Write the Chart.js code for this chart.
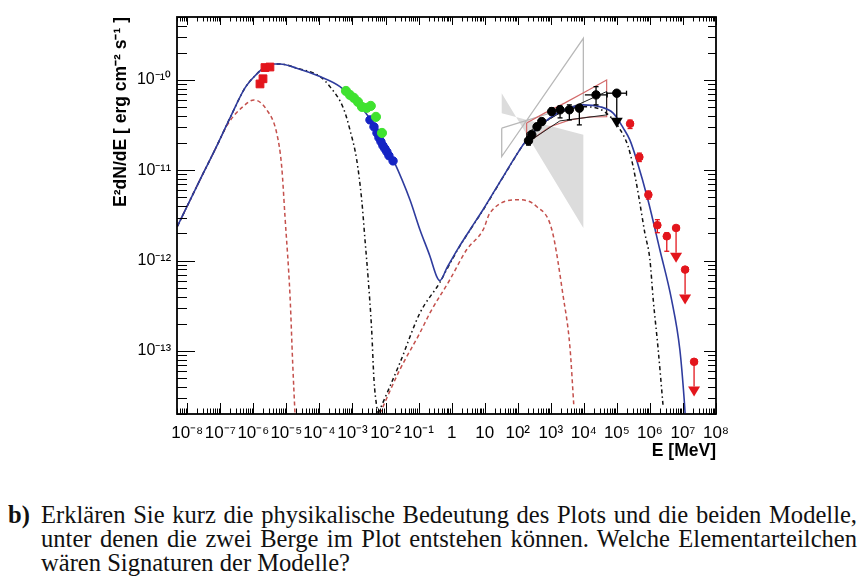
<!DOCTYPE html>
<html>
<head>
<meta charset="utf-8">
<script src="https://cdn.jsdelivr.net/npm/chart.js@4.4.1/dist/chart.umd.min.js"></script>
<style>
  body { margin: 0; background: #fff; width: 864px; height: 588px; overflow: hidden; position: relative; }
  #wrap { position: absolute; left: 0; top: 0; width: 864px; height: 480px; }
  .txt { position: absolute; font-family: "Liberation Serif", "DejaVu Serif", serif; font-size: 23px;
         line-height: 24px; white-space: nowrap; color: #111; }
  .just { width: 816px; text-align: justify; text-align-last: justify; }
</style>
</head>
<body>
<div id="wrap"><canvas id="sed" width="864" height="480"></canvas></div>
<div class="txt" data-base="523" style="left:8px; font-weight:bold">b)</div>
<div class="txt just" id="line1" data-base="523" style="left:41px">Erklären Sie kurz die physikalische Bedeutung des Plots und die beiden Modelle,</div>
<div class="txt just" data-base="547" style="left:41px">unter denen die zwei Berge im Plot entstehen können. Welche Elementarteilchen</div>
<div class="txt" data-base="571" style="left:41px">wären Signaturen der Modelle?</div>

<script>
// Achsen
const xTickValues = [1e-8, 1e-7, 1e-6, 1e-5, 1e-4, 1e-3, 1e-2, 1e-1, 1, 10, 1e2, 1e3, 1e4, 1e5, 1e6, 1e7, 1e8];
const xTickLabels = ['10⁻⁸', '10⁻⁷', '10⁻⁶', '10⁻⁵', '10⁻⁴', '10⁻³', '10⁻²', '10⁻¹', '1', '10',
                     '10²', '10³', '10⁴', '10⁵', '10⁶', '10⁷', '10⁸'];
const yTickValues = [1e-13, 1e-12, 1e-11, 1e-10];
const yTickLabels = ['10⁻¹³', '10⁻¹²', '10⁻¹¹', '10⁻¹⁰'];

// Modell gesamt (blau)
const totalE = [5.0e-9, 2.43e-8, 6.92e-8, 1.97e-7, 5.60e-7, 1.26e-6, 2.26e-6, 4.01e-6, 6.41e-6, 2.05e-5,
                1.04e-4, 4.19e-4, 2.12e-3, 8.53e-3, 1.71e-2, 5.48e-2, 0.110, 0.221, 0.352, 0.44,
                0.726, 1.56, 3.6, 8.9, 36.0, 186, 940, 2673, 9370, 30600,
                77300, 1.55e5, 2.47e5, 3.95e5, 8.7e5, 2.0e6, 4.52e6, 8.05e6, 1.09e7, 1.16e7];
const totalF = [2.39e-12, 7.85e-12, 1.69e-11, 3.80e-11, 8.16e-11, 1.16e-10, 1.39e-10, 1.50e-10, 1.50e-10, 1.35e-10,
                1.09e-10, 8.43e-11, 4.67e-11, 2.17e-11, 1.31e-11, 4.72e-12, 2.20e-12, 1.12e-12, 6.71e-13, 6.01e-13,
                8.37e-13, 1.36e-12, 2.20e-12, 3.66e-12, 8.47e-12, 2.17e-11, 3.80e-11, 4.67e-11, 5.30e-11, 5.06e-11,
                4.29e-11, 2.95e-11, 2.17e-11, 1.31e-11, 4.72e-12, 1.32e-12, 3.71e-13, 1.04e-13, 2.91e-14, 2.04e-14];

// Modell 1 (schwarz strich-punkt)
const lepSynE = [5.0e-9, 2.43e-8, 6.92e-8, 1.97e-7, 5.60e-7, 1.26e-6, 2.26e-6, 4.01e-6, 6.41e-6, 2.05e-5,
                 1.04e-4, 2.08e-4, 5.26e-4, 8.39e-4, 1.34e-3, 1.90e-3, 2.39e-3, 3.0e-3, 3.80e-3, 4.47e-3,
                 5.41e-3, 6.04e-3];
const lepSynF = [2.39e-12, 7.85e-12, 1.69e-11, 3.80e-11, 8.16e-11, 1.16e-10, 1.39e-10, 1.50e-10, 1.50e-10, 1.35e-10,
                 1.09e-10, 8.43e-11, 4.91e-11, 2.80e-11, 1.31e-11, 4.72e-12, 1.71e-12, 6.17e-13, 1.73e-13, 4.84e-14,
                 2.45e-14, 2.04e-14];
const lepIcE = [6.04e-3, 2.73e-2, 0.110, 0.44, 0.726, 1.56, 3.6, 8.9, 36.0, 186,
                940, 2673, 9370, 30600, 6.0e4, 1.1e5, 2.2e5, 3.11e5, 4.41e5, 7.03e5,
                1.0e6, 1.26e6, 1.78e6, 2.51e6];
const lepIcF = [2.04e-14, 7.41e-14, 2.64e-13, 5.73e-13, 8.1e-13, 1.34e-12, 2.18e-12, 3.62e-12, 8.4e-12, 2.15e-11,
                3.75e-11, 4.55e-11, 5.05e-11, 4.75e-11, 4.0e-11, 3.05e-11, 1.83e-11, 1.10e-11, 5.6e-12, 2.02e-12,
                1.03e-12, 3.71e-13, 1.04e-13, 2.45e-14];

// Modell 2 (rot gestrichelt)
const hadSynE = [5.0e-9, 2.43e-8, 6.92e-8, 1.71e-7, 4.88e-7, 1.05e-6, 2.54e-6, 5.09e-6, 7.21e-6, 9.07e-6,
                 1.29e-5, 1.55e-5, 1.82e-5];
const hadSynF = [2.39e-12, 7.85e-12, 1.69e-11, 3.27e-11, 5.07e-11, 6.01e-11, 4.67e-11, 2.58e-11, 1.10e-11, 3.09e-12,
                 4.03e-13, 7.41e-14, 2.04e-14];
const hadIcE = [6.78e-3, 2.73e-2, 0.110, 0.221, 0.889, 2.84, 9.04, 14.4, 116, 372, 1080, 2377, 3784, 5000];
const hadIcF = [2.04e-14, 6.25e-14, 1.59e-13, 2.64e-13, 6.17e-13, 1.32e-12, 2.20e-12, 3.37e-12, 4.72e-12, 3.98e-12,
                2.20e-12, 4.03e-13, 1.13e-13, 2.45e-14];

// Messpunkte
const radioE = [1.59e-6, 1.96e-6, 2.25e-6, 3.18e-6];
const radioF = [9.03e-11, 1.03e-10, 1.37e-10, 1.39e-10];
const optE = [6.35e-4, 8.39e-4, 1.11e-3, 1.47e-3, 1.94e-3, 2.71e-3, 3.58e-3, 5.13e-3, 7.80e-3];
const optF = [7.55e-11, 6.82e-11, 6.32e-11, 5.71e-11, 5.03e-11, 4.91e-11, 5.16e-11, 3.90e-11, 2.59e-11];
const xrayE = [3.38e-3, 4.47e-3, 5.51e-3, 6.32e-3, 7.28e-3, 8.36e-3, 9.62e-3, 1.10e-2, 1.27e-2, 1.69e-2];
const xrayF = [3.61e-11, 3.03e-11, 2.59e-11, 2.29e-11, 2.07e-11, 1.87e-11, 1.73e-11, 1.60e-11, 1.45e-11, 1.27e-11];

const latE = [212, 266, 384, 533, 1071, 1910, 3650, 7330, 23450];
const latF = [2.12e-11, 2.47e-11, 3.03e-11, 3.46e-11, 4.47e-11, 4.67e-11, 4.67e-11, 4.87e-11, 6.83e-11];
const latElo = [180, 225, 320, 450, 900, 1600, 3000, 6000, 10770];
const latEhi = [245, 310, 450, 620, 1250, 2250, 4300, 8900, 50930];
const latFlo = [1.9e-11, 2.25e-11, 2.8e-11, 3.2e-11, 4.1e-11, 3.8e-11, 3.61e-11, 3.18e-11, 5.30e-11];
const latFhi = [2.35e-11, 2.7e-11, 3.3e-11, 3.75e-11, 4.9e-11, 5.16e-11, 5.30e-11, 5.07e-11, 8.43e-11];
const latUlE = [9.93e4], latUlF = [7.13e-11], latUlTip = [2.95e-11], latUlElo = [48800], latUlEhi = [1.96e5];

const iactE = [2.51e5, 4.80e5, 8.98e5, 1.68e6, 3.24e6];
const iactF = [3.27e-11, 1.40e-11, 5.36e-12, 2.47e-12, 1.86e-12];
const iactElo = [2.05e5, 3.9e5, 7.3e5, 1.37e6, 2.63e6];
const iactEhi = [3.1e5, 5.9e5, 1.1e6, 2.07e6, 3.98e6];
const iactFlo = [2.9e-11, 1.25e-11, 4.8e-12, 2.04e-12, 1.27e-12];
const iactFhi = [3.6e-11, 1.55e-11, 5.9e-12, 2.84e-12, 2.04e-12];
const iactUlE = [6.19e6, 1.16e7, 2.17e7];
const iactUlF = [2.30e-12, 7.96e-13, 7.6e-14];
const iactUlTip = [9.5e-13, 3.27e-13, 3.14e-14];
const iactUlElo = [5.0e6, 9.4e6, 1.78e7];
const iactUlEhi = [7.6e6, 1.43e7, 2.67e7];

// Schmetterlinge (Spektralfits)
const latBowE = [186, 667, 2690, 10800, 49100, 49100, 15300, 3800, 944, 382, 186, 186];
const latBowF = [3.33e-11, 4.32e-11, 5.57e-11, 7.36e-11, 1.0e-10, 3.93e-11, 3.90e-11, 3.61e-11, 3.03e-11, 2.40e-11, 2.0e-11, 3.33e-11];
const latBow2E = [186, 1888, 48800, 48800, 1888, 186, 186];
const latBow2F = [2.59e-11, 4.31e-11, 7.43e-11, 4.10e-11, 3.52e-11, 2.01e-11, 2.59e-11];
const egretBowE = [32.8, 9680, 9680, 32.8, 32.8];
const egretBowF = [2.92e-11, 5.57e-11, 2.89e-10, 1.42e-11, 2.92e-11];
const oldBowE = [32.8, 9680, 9680, 32.8, 32.8];
const oldBowF = [7.13e-11, 2.30e-12, 2.47e-11, 4.28e-11, 7.13e-11];

const xy = (xs, ys) => xs.map((v, i) => ({x: v, y: ys[i]}));

// Fehlerbalken, obere Grenzen und Flächen
const markPlugin = {
  id: 'marks',
  beforeDatasetDraw(chart, args) {
    const ds = chart.data.datasets[args.index];
    const {ctx, chartArea: a, scales: {x, y}} = chart;
    ctx.save();
    ctx.beginPath(); ctx.rect(a.left, a.top, a.width, a.height); ctx.clip();
    if (ds.polyFill) {
      const pts = args.meta.data;
      ctx.beginPath();
      pts.forEach((p, i) => i ? ctx.lineTo(p.x, p.y) : ctx.moveTo(p.x, p.y));
      ctx.closePath();
      ctx.fillStyle = ds.polyFill;
      ctx.fill();
    }
    if (ds.errElo || ds.ulTip) {
      ctx.setLineDash([]);
      ctx.strokeStyle = ds.barColor; ctx.fillStyle = ds.barColor; ctx.lineWidth = 1.3;
      const seg = (x1, y1, x2, y2) => { ctx.beginPath(); ctx.moveTo(x1, y1); ctx.lineTo(x2, y2); ctx.stroke(); };
      ds.data.forEach((p, i) => {
        const px = x.getPixelForValue(p.x), py = y.getPixelForValue(p.y);
        if (ds.errElo) {
          const l = x.getPixelForValue(ds.errElo[i]), r = x.getPixelForValue(ds.errEhi[i]);
          seg(l, py, r, py); seg(r, py - 2.5, r, py + 2.5);
        }
        if (ds.errFlo) {
          const b = y.getPixelForValue(ds.errFlo[i]), t = y.getPixelForValue(ds.errFhi[i]);
          seg(px, t, px, b); seg(px - 2.5, t, px + 2.5, t); seg(px - 2.5, b, px + 2.5, b);
        }
        if (ds.ulTip) {
          const ty = y.getPixelForValue(ds.ulTip[i]), w = ds.ulSize;
          seg(px, py, px, ty - w);
          ctx.beginPath(); ctx.moveTo(px - w * 0.6, ty - w); ctx.lineTo(px + w * 0.6, ty - w); ctx.lineTo(px, ty);
          ctx.closePath(); ctx.fill();
        }
      });
    }
    ctx.restore();
  }
};

// ROOT-Rahmen mit Ticks auf allen vier Seiten
const framePlugin = {
  id: 'frame',
  afterDraw(chart) {
    const {ctx, chartArea: a, scales} = chart;
    const sx = scales.x, sy = scales.y;
    ctx.save();
    ctx.setLineDash([]);
    ctx.globalAlpha = 1;
    ctx.strokeStyle = '#000';
    ctx.lineWidth = 1;
    const seg = (x1, y1, x2, y2) => { ctx.beginPath(); ctx.moveTo(x1, y1); ctx.lineTo(x2, y2); ctx.stroke(); };
    for (let d = -16; d <= 9; d++) {
      for (let m = 1; m <= 9; m++) {
        const v = m * Math.pow(10, d);
        const px = sx.getPixelForValue(v);
        if (px >= a.left - 0.5 && px <= a.right + 0.5) {
          const qx = Math.round(px) + 0.5;
          seg(qx, a.bottom, qx, a.bottom - (m === 1 ? 11 : 5.5));
          seg(qx, a.top, qx, a.top + (m === 1 ? 8 : 4.5));
        }
        const py = sy.getPixelForValue(v);
        if (py >= a.top - 0.5 && py <= a.bottom + 0.5) {
          const qy = Math.round(py) + 0.5;
          seg(a.left, qy, a.left + (m === 1 ? 18 : 10), qy);
          seg(a.right, qy, a.right - (m === 1 ? 12 : 8), qy);
        }
      }
    }
    ctx.lineWidth = 1.8;
    ctx.strokeRect(a.left, a.top, a.width, a.height);
    ctx.restore();
  }
};

Chart.defaults.font.family = "'Liberation Sans', Arial, sans-serif";
Chart.defaults.color = '#000';

const curve = (data, color, dash, width) => ({
  data, showLine: true, pointRadius: 0, borderColor: color, borderWidth: width,
  borderDash: dash, cubicInterpolationMode: 'monotone', fill: false
});
const outline = (data, color, width) => ({
  data, showLine: true, pointRadius: 0, borderColor: color, borderWidth: width, tension: 0, fill: false
});

new Chart(document.getElementById('sed'), {
  type: 'scatter',
  data: {
    datasets: [
      { data: xy(radioE, radioF), pointStyle: 'rect', pointRadius: 5.5, backgroundColor: '#e3151c', borderColor: '#e3151c' },
      { data: xy(optE, optF), pointRadius: 4.6, backgroundColor: '#3fe22f', borderColor: '#3fe22f' },
      { data: xy(xrayE, xrayF), pointRadius: 4.2, backgroundColor: '#1524c4', borderColor: '#1524c4' },
      { data: xy(latE, latF), pointRadius: 4.2, backgroundColor: '#000', borderColor: '#000',
        errElo: latElo, errEhi: latEhi, errFlo: latFlo, errFhi: latFhi, barColor: '#000' },
      { data: xy(latUlE, latUlF), pointRadius: 4.2, backgroundColor: '#000', borderColor: '#000',
        errElo: latUlElo, errEhi: latUlEhi, ulTip: latUlTip, ulSize: 10, barColor: '#000' },
      { data: xy(iactE, iactF), pointRadius: 3.8, backgroundColor: '#e3151c', borderColor: '#e3151c',
        errElo: iactElo, errEhi: iactEhi, errFlo: iactFlo, errFhi: iactFhi, barColor: '#e3151c' },
      { data: xy(iactUlE, iactUlF), pointRadius: 3.8, backgroundColor: '#e3151c', borderColor: '#e3151c',
        errElo: iactUlElo, errEhi: iactUlEhi, ulTip: iactUlTip, ulSize: 10, barColor: '#e3151c' },
      curve(xy(totalE, totalF), '#2f3c9e', [], 1.6),
      curve(xy(lepSynE, lepSynF), '#111', [4, 3, 1.5, 3], 1.5),
      curve(xy(lepIcE, lepIcF), '#111', [4, 3, 1.5, 3], 1.5),
      curve(xy(hadSynE, hadSynF), '#c4504c', [4, 3], 1.5),
      curve(xy(hadIcE, hadIcF), '#c4504c', [4, 3], 1.5),
      outline(xy(latBow2E, latBow2F), '#222', 1),
      outline(xy(latBowE, latBowF), '#d36a6a', 1.2),
      outline(xy(egretBowE, egretBowF), '#b8b8b8', 1.3),
      Object.assign(outline(xy(oldBowE, oldBowF), 'rgba(0,0,0,0)', 0), { polyFill: '#dcdcdc' })
    ]
  },
  options: {
    responsive: false,
    animation: false,
    events: [],
    layout: { padding: { left: 107, right: 148, top: 17, bottom: 14 } },
    plugins: { legend: { display: false }, tooltip: { enabled: false } },
    scales: {
      x: {
        type: 'logarithmic', min: 4.9e-9, max: 1e8,
        grid: { display: false, drawTicks: false }, border: { display: false },
        afterBuildTicks: s => { s.ticks = xTickValues.map(v => ({ value: v })); },
        afterFit: s => { s.height = 52; },
        ticks: {
          autoSkip: false, maxRotation: 0, padding: 9,
          font: { family: "'Liberation Sans Narrow', 'Liberation Sans', sans-serif", size: 17 },
          callback: (v, i) => xTickLabels[i]
        },
        title: { display: true, text: 'E [MeV]', align: 'end', font: { size: 17.5, weight: 'bold' }, padding: { top: 4, bottom: 4 } }
      },
      y: {
        type: 'logarithmic', min: 2.01e-14, max: 4.97e-10,
        grid: { display: false, drawTicks: false }, border: { display: false },
        afterBuildTicks: s => { s.ticks = yTickValues.map(v => ({ value: v })); },
        afterFit: s => { s.width = 70; },
        ticks: { autoSkip: false, padding: 6, font: { size: 16 }, callback: (v, i) => yTickLabels[i] },
        title: { display: true, text: 'E²dN/dE [ erg cm⁻² s⁻¹ ]', align: 'end', font: { size: 17.5, weight: 'bold' }, padding: { top: 4, bottom: 4 } }
      }
    }
  },
  plugins: [markPlugin, framePlugin]
});

// Aufgabentext: Schriftgröße so wählen, dass die erste Zeile knapp 816 px breit ist
(function fitText() {
  const c = document.createElement('canvas').getContext('2d');
  const line1 = document.getElementById('line1').textContent;
  c.font = '23px "Liberation Serif"';
  const size = Math.min(26, 23 * 800 / c.measureText(line1).width);
  document.querySelectorAll('.txt').forEach(el => {
    const base = +el.dataset.base;
    el.style.fontSize = size + 'px';
    el.style.top = (base - (0.891 * size + (24 - 1.107 * size) / 2)) + 'px';
  });
})();
</script>
</body>
</html>
